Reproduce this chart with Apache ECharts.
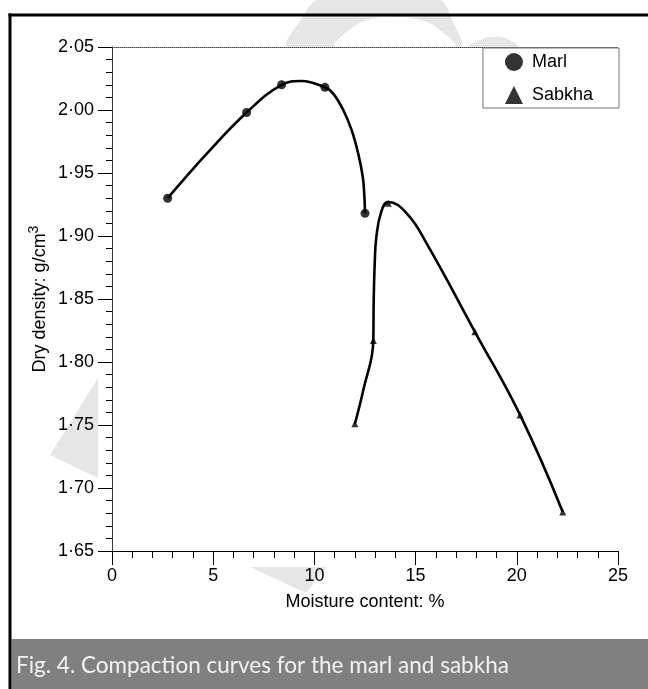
<!DOCTYPE html>
<html>
<head>
<meta charset="utf-8">
<script src="https://cdn.jsdelivr.net/npm/echarts@6/dist/echarts.min.js"></script>
<style>
  html, body { margin: 0; padding: 0; background: #fff; }
  #chart { width: 648px; height: 689px; }
</style>
</head>
<body>
<div id="chart"></div>
<script>
// Measured compaction points
const marlMoisture = [2.75, 6.65, 8.38, 10.52, 12.5];
const marlDensity = [1.930, 1.998, 2.020, 2.018, 1.918];
const sabkhaMoisture = [12.0, 12.91, 13.65, 17.93, 20.16, 22.27];
const sabkhaDensity = [1.751, 1.817, 1.926, 1.824, 1.758, 1.681];

// Points along the drawn compaction curves
const marlCurveMoisture = [2.75, 4.66, 6.65, 8.38, 9.37, 10.52, 10.93, 11.43, 11.84, 12.17, 12.39, 12.47, 12.5];
const marlCurveDensity = [1.930, 1.965, 1.998, 2.020, 2.023, 2.018, 2.013, 1.9998, 1.984, 1.965, 1.947, 1.931, 1.918];
const sabkhaCurveMoisture = [12.0, 12.42, 12.91, 12.93, 12.98, 13.06, 13.3, 13.65, 14.56, 15.55, 17.93, 20.16, 22.27];
const sabkhaCurveDensity = [1.751, 1.778, 1.817, 1.849, 1.878, 1.899, 1.919, 1.927, 1.918, 1.894, 1.824, 1.758, 1.681];

// Axis tick labels
const xTickLabels = ['0', '5', '10', '15', '20', '25'];
const yTickLabels = ['1·65', '1·70', '1·75', '1·80', '1·85', '1·90', '1·95', '2·00', '2·05'];

const pairs = (xs, ys) => xs.map((x, i) => [x, ys[i]]);
const FONT = '"Liberation Sans", Arial, sans-serif';
const INK = '#000';

const chart = echarts.init(document.getElementById('chart'), null, { renderer: 'canvas' });

const hiddenAxisBits = {
  axisTick: { show: false },
  axisLabel: { show: false },
  splitLine: { show: false },
  axisLine: { show: true, lineStyle: { color: '#444', width: 1, type: 'dotted' } }
};

chart.setOption({
  animation: false,
  backgroundColor: '#fff',
  grid: {
    left: 112, right: 30, top: 47, bottom: 138,
    show: true, backgroundColor: '#fff', borderWidth: 0
  },
  legend: {
    data: ['Marl', 'Sabkha'],
    orient: 'vertical',
    right: 29, top: 48,
    padding: [5, 26, 4, 22],
    itemGap: 15,
    itemWidth: 18, itemHeight: 18,
    borderColor: '#777', borderWidth: 1,
    backgroundColor: '#fff',
    textStyle: { fontFamily: FONT, fontSize: 18, color: INK, padding: [0, 0, 0, 4] }
  },
  xAxis: [{
    type: 'value', min: 0, max: 25, interval: 5,
    name: 'Moisture content: %',
    nameLocation: 'middle', nameGap: 42, nameMoveOverlap: false,
    nameTextStyle: { fontFamily: FONT, fontSize: 18, color: INK },
    axisLine: { lineStyle: { color: INK, width: 1 } },
    axisTick: { inside: false, length: 14, lineStyle: { color: INK } },
    minorTick: { show: true, splitNumber: 5, length: 7, lineStyle: { color: INK } },
    axisLabel: {
      margin: 16, fontFamily: FONT, fontSize: 18, color: INK,
      formatter: v => xTickLabels[Math.round(v / 5)]
    },
    splitLine: { show: false }
  }, Object.assign({ type: 'value', min: 0, max: 25, position: 'top' }, hiddenAxisBits)],
  yAxis: [{
    type: 'value', min: 1.65, max: 2.05, interval: 0.05,
    name: 'Dry density: g/cm{sup|3}',
    nameLocation: 'middle', nameGap: 59, nameMoveOverlap: false,
    nameTextStyle: {
      fontFamily: FONT, fontSize: 18, color: INK, lineHeight: 26,
      rich: { sup: { fontFamily: FONT, fontSize: 14, color: INK, verticalAlign: 'top', lineHeight: 14 } }
    },
    axisLine: { lineStyle: { color: INK, width: 1 } },
    axisTick: { inside: false, length: 14, lineStyle: { color: INK } },
    minorTick: { show: true, splitNumber: 5, length: 6, lineStyle: { color: INK } },
    axisLabel: {
      margin: 18, fontFamily: FONT, fontSize: 18, color: INK,
      formatter: v => yTickLabels[Math.round((v - 1.65) / 0.05)]
    },
    splitLine: { show: false }
  }, Object.assign({ type: 'value', min: 1.65, max: 2.05, position: 'right' }, hiddenAxisBits)],
  series: [
    {
      name: 'Marl curve', type: 'line', smooth: 0.4, showSymbol: false,
      data: pairs(marlCurveMoisture, marlCurveDensity),
      lineStyle: { color: INK, width: 2.6 }, z: 3
    },
    {
      name: 'Sabkha curve', type: 'line', smooth: 0.45, showSymbol: false,
      data: pairs(sabkhaCurveMoisture, sabkhaCurveDensity),
      lineStyle: { color: INK, width: 2.6 }, z: 3
    },
    {
      name: 'Marl', type: 'scatter', symbol: 'circle', symbolSize: 9,
      data: pairs(marlMoisture, marlDensity),
      itemStyle: { color: INK }, z: 4
    },
    {
      name: 'Sabkha', type: 'scatter', symbol: 'triangle', symbolSize: 7,
      data: pairs(sabkhaMoisture, sabkhaDensity),
      itemStyle: { color: INK }, z: 4
    }
  ],
  graphic: [
    // faint background shapes
    { type: 'polygon', z: -5, shape: { points: [[50, 455], [98, 378], [98, 478]] }, style: { fill: '#e6e6e6' } },
    { type: 'polygon', z: -5, shape: { points: [[250, 567], [327, 567], [306, 593]] }, style: { fill: '#e6e6e6' } },
    { type: 'polygon', z: -5, shape: { smooth: 0.3, points: [[288, 47], [302, 18], [318, 0], [440, 0], [452, 20], [460, 47]] }, style: { fill: '#e6e6e6' } },
    { type: 'polygon', z: -4, shape: { smooth: 0.5, points: [[337, 47], [352, 28], [372, 19], [395, 17], [420, 20], [440, 30], [453, 47]] }, style: { fill: '#fff' } },
    { type: 'polygon', z: -5, shape: { smooth: 0.5, points: [[470, 47], [480, 40], [493, 37], [507, 39], [517, 47]] }, style: { fill: '#e6e6e6' } },
    // outer frame
    { type: 'line', z: 20, shape: { x1: 8.5, y1: 15, x2: 648, y2: 15 }, style: { stroke: '#000', lineWidth: 3 } },
    { type: 'line', z: 20, shape: { x1: 10, y1: 13.5, x2: 10, y2: 689 }, style: { stroke: '#000', lineWidth: 3 } },
    // caption bar
    { type: 'rect', z: 19, shape: { x: 11.5, y: 639, width: 637, height: 50 }, style: { fill: '#808080' } },
    {
      type: 'text', z: 21, x: 16, y: 666,
      style: {
        text: 'Fig. 4. Compaction curves for the marl and sabkha',
        fill: '#f2f2f2', font: '22.5px Lato, "Open Sans", sans-serif',
        textVerticalAlign: 'middle', verticalAlign: 'middle'
      }
    }
  ]
});
</script>
</body>
</html>
